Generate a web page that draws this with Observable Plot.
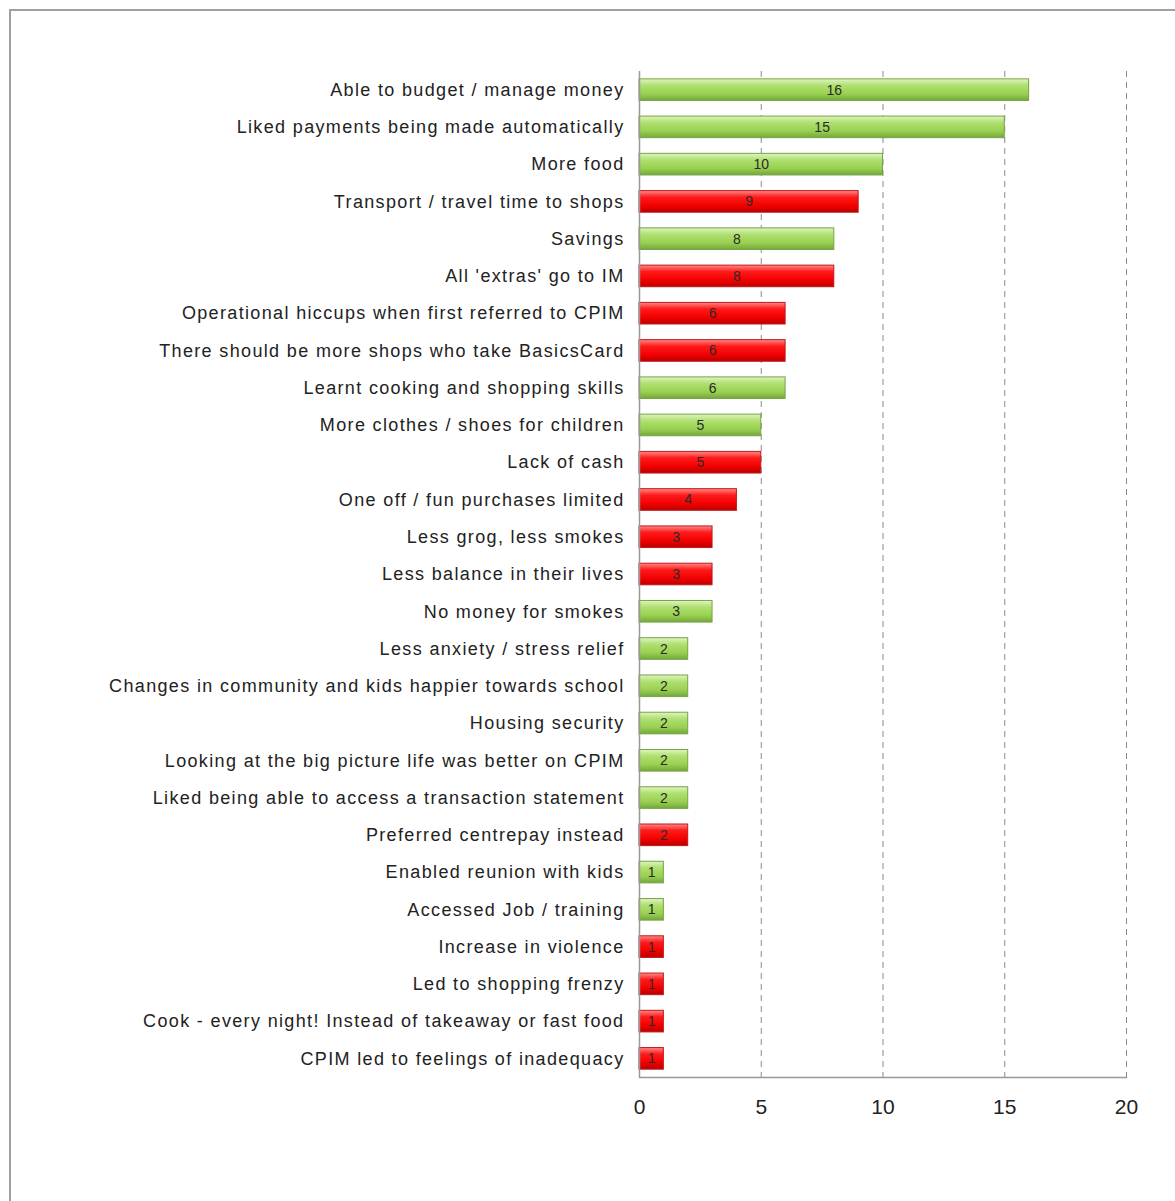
<!DOCTYPE html>
<html>
<head>
<meta charset="utf-8">
<script src="https://cdn.jsdelivr.net/npm/d3@7"></script>
<script src="https://cdn.jsdelivr.net/npm/@observablehq/plot@0.6"></script>
<style>
  html, body { margin: 0; padding: 0; background: #fff; }
  #wrap { position: relative; width: 1175px; height: 1201px; overflow: hidden; }
  #border { position: absolute; left: 9px; top: 9px; width: 1200px; height: 1220px; border-left: 2px solid #a0a0a0; border-top: 2px solid #a0a0a0; box-sizing: border-box; pointer-events: none; }
  #chart { position: absolute; left: 0; top: 0; }
</style>
</head>
<body>
<div id="wrap"><div id="chart"></div><div id="border"></div></div>
<script>
const categories = [
  "Able to budget / manage money",
  "Liked payments being made automatically",
  "More food",
  "Transport / travel time to shops",
  "Savings",
  "All 'extras' go to IM",
  "Operational hiccups when first referred to CPIM",
  "There should be more shops who take BasicsCard",
  "Learnt cooking and shopping skills",
  "More clothes / shoes for children",
  "Lack of cash",
  "One off / fun purchases limited",
  "Less grog, less smokes",
  "Less balance in their lives",
  "No money for smokes",
  "Less anxiety / stress relief",
  "Changes in community and kids happier towards school",
  "Housing security",
  "Looking at the big picture life was better on CPIM",
  "Liked being able to access a transaction statement",
  "Preferred centrepay instead",
  "Enabled reunion with kids",
  "Accessed Job / training",
  "Increase in violence",
  "Led to shopping frenzy",
  "Cook - every night! Instead of takeaway or fast food",
  "CPIM led to feelings of inadequacy"
];
const counts = [16, 15, 10, 9, 8, 8, 6, 6, 6, 5, 5, 4, 3, 3, 3, 2, 2, 2, 2, 2, 2, 1, 1, 1, 1, 1, 1];
const sentiment = ["pos","pos","pos","neg","pos","neg","neg","neg","pos","pos","neg","neg","neg","neg","pos",
                   "pos","pos","pos","pos","pos","neg","pos","pos","neg","neg","neg","neg"];
const xTicks = [0, 5, 10, 15, 20];

const data = categories.map((c, i) => ({category: c, count: counts[i], sentiment: sentiment[i]}));
const pos = data.filter(d => d.sentiment === "pos");
const neg = data.filter(d => d.sentiment === "neg");

const plot = Plot.plot({
  width: 1175,
  height: 1201,
  marginLeft: 639,
  marginRight: 49,
  marginTop: 71,
  marginBottom: 124,
  style: {fontFamily: "'Liberation Sans', Arial, sans-serif", background: "transparent"},
  x: {domain: [0, 20], ticks: xTicks},
  y: {domain: categories, paddingInner: 0.42, paddingOuter: 0.21, round: false},
  marks: [
    Plot.gridX(xTicks.slice(1), {stroke: "#8a8a8a", strokeOpacity: 1, strokeDasharray: "6,5", strokeWidth: 1}),
    Plot.barX(pos, {y: "category", x: "count", fill: "url(#gradGreen)", stroke: "#76a540", strokeWidth: 1}),
    Plot.barX(neg, {y: "category", x: "count", fill: "url(#gradRed)", stroke: "#c01818", strokeWidth: 1}),
    Plot.text(data, {y: "category", x: d => d.count / 2, text: d => String(d.count), fill: "#2a2a2a", fontSize: 14}),
    Plot.ruleX([0], {stroke: "#999", strokeWidth: 1.5}),
    Plot.axisY({tickSize: 0, tickPadding: 15, fontSize: 18, label: null, fill: "#222"}),
    Plot.axisX(xTicks, {tickSize: 0, tickPadding: 22, fontSize: 21, label: null, fill: "#222"}),
    Plot.frame({anchor: "bottom", stroke: "#999", strokeWidth: 1.5})
  ]
});

d3.select(plot).selectAll('g[aria-label="y-axis tick label"] text').attr("letter-spacing", "1.35");

const svgNS = "http://www.w3.org/2000/svg";
const defs = document.createElementNS(svgNS, "defs");
defs.innerHTML = `
  <linearGradient id="gradGreen" x1="0" y1="0" x2="0" y2="1">
    <stop offset="0" stop-color="#e0f4c4"/>
    <stop offset="0.3" stop-color="#b0e070"/>
    <stop offset="0.7" stop-color="#98d050"/>
    <stop offset="1" stop-color="#74a63c"/>
  </linearGradient>
  <linearGradient id="gradRed" x1="0" y1="0" x2="0" y2="1">
    <stop offset="0" stop-color="#ff8a8a"/>
    <stop offset="0.3" stop-color="#ff1a1a"/>
    <stop offset="0.7" stop-color="#f20000"/>
    <stop offset="1" stop-color="#b80000"/>
  </linearGradient>`;
plot.insertBefore(defs, plot.firstChild);
document.getElementById("chart").appendChild(plot);
</script>
</body>
</html>
